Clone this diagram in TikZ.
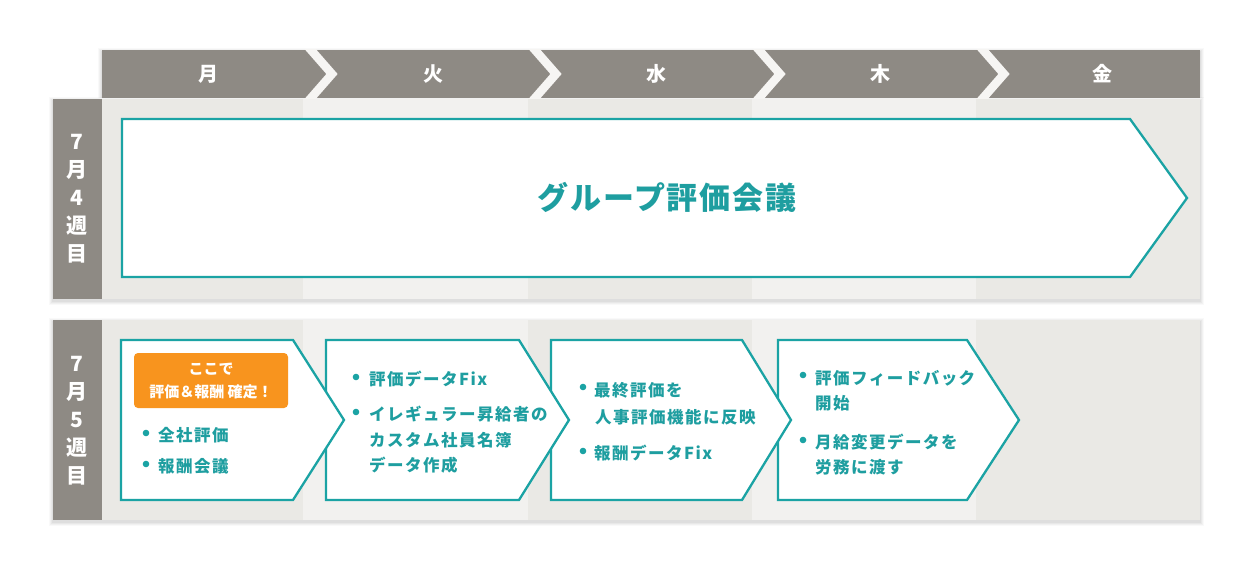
\documentclass[tikz,border=0pt]{standalone}
\usepackage{fontspec}
\setmainfont{Noto Sans CJK JP}
\newfontfamily\jp{Noto Sans CJK JP}
\newfontfamily\jpsp[LetterSpace=9]{Noto Sans CJK JP}
\newfontfamily\jptitle[LetterSpace=6]{Noto Sans CJK JP}
\definecolor{tealc}{RGB}{27,163,164}
\definecolor{teltx}{RGB}{30,158,160}
\definecolor{hgray}{RGB}{142,138,132}
\definecolor{coldark}{RGB}{234,233,229}
\definecolor{collight}{RGB}{242,241,239}
\definecolor{orangec}{RGB}{248,148,30}
\definecolor{chev}{RGB}{246,245,243}
\begin{document}
\begin{tikzpicture}[x=1pt,y=-1pt,
  stepbox/.style={draw=tealc, line width=2.3pt, fill=white, line join=miter},
  daylbl/.style={text=white, font=\fontsize{20}{24}\selectfont\bfseries\jp, inner sep=0pt},
  wklbl/.style={text=white, align=center, font=\fontsize{21}{28}\selectfont\bfseries\jp, inner sep=0pt},
  itemtxt/.style={text=teltx, anchor=base west, inner sep=0pt, font=\fontsize{16.5}{25}\selectfont\bfseries\jpsp},
  bul/.style={fill=tealc},
  ]
\fill[white] (0,0) rectangle (1252,569);
\useasboundingbox (0,0) rectangle (1252,569);
% soft shadows
\foreach \s/\o in {4/0.025,3/0.03,2/0.035,1/0.04}{
  \fill[black,opacity=\o] (53-\s,99-\s+2) rectangle (1200+\s,299+\s+2);
  \fill[black,opacity=\o] (53-\s,320-\s+2) rectangle (1200+\s,520+\s+2);
  \fill[black,opacity=\o] (102-\s,50-\s+2) rectangle (1200+\s,98);
}
% panels
\foreach \ya/\yb in {99/299,320/520}{
  \fill[coldark] (102,\ya) rectangle (1200,\yb);
  \fill[collight] (303,\ya) rectangle (528,\yb);
  \fill[collight] (752,\ya) rectangle (976,\yb);
  \fill[hgray] (53,\ya) rectangle (102,\yb);
}
% header
\fill[hgray] (102,50) rectangle (1200,98);
\begin{scope}
  \clip (102,50) rectangle (1200,99);
  \foreach \c in {311,535,759,983}{
    \draw[chev, line width=8.5pt, line join=miter] (\c-3.5,46) -- (\c+21,74) -- (\c-3.5,102);
  }
\end{scope}
\node[daylbl] (mon) at (208,74) {月};
\node[daylbl] (tue) at (433,74) {火};
\node[daylbl] (wed) at (656,74) {水};
\node[daylbl] (thu) at (880,74) {木};
\node[daylbl] (fri) at (1102,74) {金};
% week labels
\node[wklbl] (w4) at (77,199) {7\\月\\4\\週\\目};
\node[wklbl] (w5) at (77,421) {7\\月\\5\\週\\目};
% week 4 arrow
\draw[stepbox] (122,119) -- (1130,119) -- (1187,198) -- (1130,277) -- (122,277) -- cycle;
\node[text=teltx, inner sep=0pt, font=\fontsize{31}{36}\selectfont\bfseries\jptitle] (title) at (667,197) {グループ評価会議};
% week 5 steps (right to left so that each tip lies on top)
\draw[stepbox] (778,340) -- (967,340) -- (1019,420) -- (967,500) -- (778,500) -- cycle;
\draw[stepbox] (551,340) -- (742,340) -- (791,420) -- (742,500) -- (551,500) -- cycle;
\draw[stepbox] (326,340) -- (519,340) -- (569,420) -- (519,500) -- (326,500) -- cycle;
\draw[stepbox] (121,340) -- (293,340) -- (344,420) -- (293,500) -- (121,500) -- cycle;
% orange badge
\fill[orangec, rounded corners=4pt] (134,353) rectangle (288,408);
\node[text=white, align=center, inner sep=0pt, font=\fontsize{15}{23}\selectfont\bfseries\jp] (badge) at (211,381) {ここで\\評価＆報酬 確定！};
% box 1
\fill[bul] (146,433) circle (3.3);
\node[itemtxt] (a1) at (158,441) {全社評価};
\fill[bul] (146,464) circle (3.3);
\node[itemtxt] (a2) at (158,472) {報酬会議};
% box 2
\fill[bul] (356,377) circle (3.3);
\node[itemtxt] (b1) at (369,385) {評価データFix};
\fill[bul] (356,412) circle (3.3);
\node[itemtxt] (b2) at (369,420) {イレギュラー昇給者の};
\node[itemtxt] (b3) at (369,446) {カスタム社員名簿};
\node[itemtxt] (b4) at (369,471) {データ作成};
% box 3
\fill[bul] (583,387) circle (3.3);
\node[itemtxt] (c1) at (594,396) {最終評価を};
\node[itemtxt] (c2) at (595,423) {人事評価機能に反映};
\fill[bul] (583,451) circle (3.3);
\node[itemtxt] (c3) at (594,459) {報酬データFix};
% box 4
\fill[bul] (803,375) circle (3.3);
\node[itemtxt] (d1) at (815,384) {評価フィードバック};
\node[itemtxt] (d2) at (815,409) {開始};
\fill[bul] (803,440) circle (3.3);
\node[itemtxt] (d3) at (815,448) {月給変更データを};
\node[itemtxt] (d4) at (815,473) {労務に渡す};
\end{tikzpicture}
\end{document}
